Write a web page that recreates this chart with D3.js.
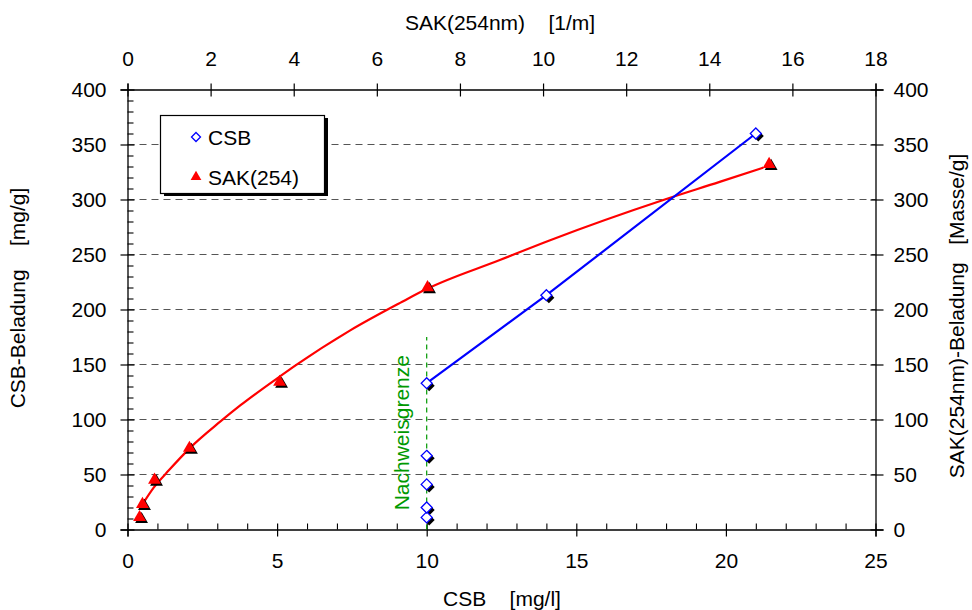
<!DOCTYPE html>
<html><head><meta charset="utf-8">
<script src="https://cdn.jsdelivr.net/npm/d3@7"></script>
<style>
body{margin:0;background:#fff;}
text{font-family:"Liberation Sans",Arial,sans-serif;}
</style></head>
<body><svg id="c" width="972" height="610"></svg>
<script>
// CSB (bottom / left axes)
const csbX = [10, 10, 10, 10, 10, 14, 21];
const csbY = [11, 20, 41, 67, 133, 213, 360];
const csbLineX = [10, 14, 21];
const csbLineY = [133, 213, 360];
// SAK(254) (top / right axes)
const sakX = [0.29, 0.36, 0.65, 1.49, 3.66, 7.22, 15.44];
const sakY = [11, 23, 45, 74, 134, 220, 332];
const sakFitX = [0.33, 0.63, 1.0, 1.5, 2.23, 2.72, 3.66, 4.0, 5.36, 6.56, 7.22, 8.96, 10.17, 12.93, 14.25, 15.3];
const sakFitY = [21, 38, 54, 74, 98, 113, 139, 148, 181, 206, 219, 245, 263, 300, 316, 329];
// Nachweisgrenze
const limitX = [10, 10];
const limitY = [0, 175];
// ticks
const bottomTicks = [0, 5, 10, 15, 20, 25];
const topTicks = [0, 2, 4, 6, 8, 10, 12, 14, 16, 18];
const leftTicks = [0, 50, 100, 150, 200, 250, 300, 350, 400];
const gridTicks = [50, 100, 150, 200, 250, 300, 350];

const svg = d3.select("#c");
const L = 127.5, R = 875.5, T = 89.5, B = 529.5;
const xB = d3.scaleLinear([0, 25], [L, R]);
const xT = d3.scaleLinear([0, 18], [L, R]);
const yL = d3.scaleLinear([0, 400], [B, T]);
const yR = d3.scaleLinear([0, 400], [B, T]);
const FS = 21;

// grid
svg.append("g").selectAll("line").data(gridTicks).join("line")
  .attr("x1", L).attr("x2", R).attr("y1", d => yL(d)).attr("y2", d => yL(d))
  .attr("stroke", "#555").attr("stroke-width", 1.2).attr("stroke-dasharray", "7,5");

function styleAxis(g) {
  g.select(".domain").attr("stroke", "#000").attr("stroke-width", 1.3);
  g.selectAll(".tick line").attr("stroke", "#000").attr("stroke-width", 1.2);
  g.selectAll("text").attr("font-size", FS).attr("fill", "#000")
    .style("font-family", '"Liberation Sans",Arial,sans-serif');
}

// bottom axis
const gB = svg.append("g").attr("transform", `translate(0,${B})`)
  .call(d3.axisBottom(xB).tickValues(bottomTicks).tickSizeOuter(0).tickSize(7).tickPadding(17));
styleAxis(gB);
gB.selectAll(".tick line").attr("y1", -6);
svg.append("g").attr("transform", `translate(0,${B})`)
  .call(d3.axisBottom(xB).tickValues(d3.range(0, 26).filter(v => v % 5)).tickSize(-6).tickFormat(""))
  .call(g => { g.select(".domain").remove(); g.selectAll("line").attr("stroke", "#000").attr("stroke-width", 1.1); });

// top axis
const gT = svg.append("g").attr("transform", `translate(0,${T})`)
  .call(d3.axisTop(xT).tickValues(topTicks).tickSizeOuter(0).tickSize(6).tickPadding(18));
styleAxis(gT);
gT.selectAll(".tick line").attr("y1", 7);

// left axis
const gL = svg.append("g").attr("transform", `translate(${L},0)`)
  .call(d3.axisLeft(yL).tickValues(leftTicks).tickSizeOuter(0).tickSize(7).tickPadding(14));
styleAxis(gL);
gL.selectAll(".tick line").attr("x1", 7);
svg.append("g").attr("transform", `translate(${L},0)`)
  .call(d3.axisLeft(yL).tickValues(d3.range(0, 401, 10).filter(v => v % 50)).tickSize(-6).tickFormat(""))
  .call(g => { g.select(".domain").remove(); g.selectAll("line").attr("stroke", "#000").attr("stroke-width", 1.1); });

// right axis
const gR = svg.append("g").attr("transform", `translate(${R},0)`)
  .call(d3.axisRight(yR).tickValues(leftTicks).tickSizeOuter(0).tickSize(8).tickPadding(10));
styleAxis(gR);
gR.selectAll(".tick line").attr("x1", -5);

// axis titles
const title = (x, y, rot, txt) => svg.append("text")
  .attr("transform", `translate(${x},${y}) rotate(${rot})`)
  .attr("text-anchor", "middle").attr("font-size", FS).style("white-space", "pre").text(txt);
title(500, 30, 0, "SAK(254nm)    [1/m]");
title(502, 606, 0, "CSB    [mg/l]");
title(25, 298, -90, "CSB-Beladung    [mg/g]");
title(964, 316, -90, "SAK(254nm)-Beladung   [Masse/g]");

// Nachweisgrenze
svg.append("line")
  .attr("x1", xB(limitX[0])).attr("x2", xB(limitX[1]))
  .attr("y1", yL(limitY[0])).attr("y2", yL(limitY[1]))
  .attr("stroke", "#009900").attr("stroke-width", 1.2).attr("stroke-dasharray", "5,4");
svg.append("text")
  .attr("transform", `translate(${xB(10) - 18},${yL(88)}) rotate(-90)`)
  .attr("text-anchor", "middle").attr("font-size", FS).attr("fill", "#009900").text("Nachweisgrenze");

// lines
svg.append("path")
  .datum(d3.zip(sakFitX, sakFitY))
  .attr("d", d3.line().x(d => xT(d[0])).y(d => yR(d[1])).curve(d3.curveMonotoneX))
  .attr("fill", "none").attr("stroke", "#ff0000").attr("stroke-width", 2.2);
svg.append("path")
  .datum(d3.zip(csbLineX, csbLineY))
  .attr("d", d3.line().x(d => xB(d[0])).y(d => yL(d[1])))
  .attr("fill", "none").attr("stroke", "#0000ff").attr("stroke-width", 2.2);

// markers
const tri = d3.symbol().type(d3.symbolTriangle).size(72);
const dia = "M0,-5.5L5.5,0L0,5.5L-5.5,0Z";
const sak = d3.zip(sakX, sakY);
svg.append("g").selectAll("path").data(sak).join("path")
  .attr("transform", d => `translate(${xT(d[0]) + 2},${yR(d[1]) + 2})`).attr("d", tri).attr("fill", "#000");
svg.append("g").selectAll("path").data(sak).join("path")
  .attr("transform", d => `translate(${xT(d[0])},${yR(d[1])})`).attr("d", tri).attr("fill", "#ff0000");
const csb = d3.zip(csbX, csbY);
svg.append("g").selectAll("path").data(csb).join("path")
  .attr("transform", d => `translate(${xB(d[0]) + 2.5},${yL(d[1]) + 2.5})`).attr("d", dia).attr("fill", "#000");
svg.append("g").selectAll("path").data(csb).join("path")
  .attr("transform", d => `translate(${xB(d[0])},${yL(d[1])})`).attr("d", dia)
  .attr("fill", "#fff").attr("stroke", "#0000ff").attr("stroke-width", 1.3);

// legend
const lg = svg.append("g");
lg.append("rect").attr("x", 164).attr("y", 118).attr("width", 164).attr("height", 78).attr("fill", "#000");
lg.append("rect").attr("x", 160.5).attr("y", 115.5).attr("width", 164).attr("height", 78)
  .attr("fill", "#fff").attr("stroke", "#000").attr("stroke-width", 1.2);
lg.append("path").attr("transform", "translate(196,137)").attr("d", "M0,-4.5L4.5,0L0,4.5L-4.5,0Z")
  .attr("fill", "#fff").attr("stroke", "#0000ff").attr("stroke-width", 1.3);
lg.append("path").attr("transform", "translate(196,177)").attr("d", d3.symbol().type(d3.symbolTriangle).size(50))
  .attr("fill", "#ff0000");
lg.append("text").attr("x", 208).attr("y", 144.5).attr("font-size", FS).text("CSB");
lg.append("text").attr("x", 208).attr("y", 184.5).attr("font-size", FS).text("SAK(254)");
</script></body></html>
